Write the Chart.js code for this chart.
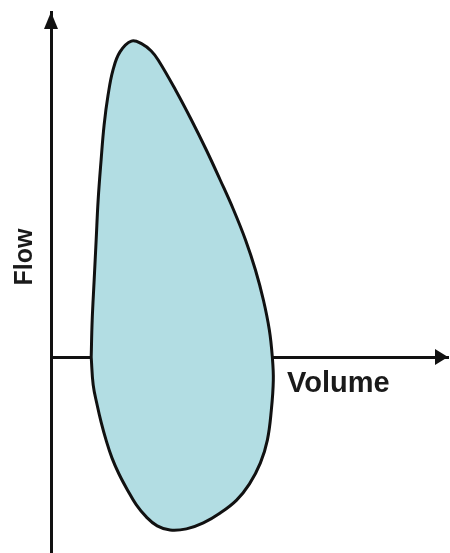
<!DOCTYPE html>
<html>
<head>
<meta charset="utf-8">
<script src="https://cdn.jsdelivr.net/npm/chart.js@4"></script>
<style>
  html, body { margin: 0; padding: 0; background: #fff; }
  #wrap { width: 450px; height: 553px; position: relative; }
</style>
</head>
<body>
<div id="wrap"><canvas id="canvas"></canvas></div>
<script>
// flow-volume loop (volume in L, flow in L/s)
// expiration (top half) then inspiration (bottom half)
var loopVolume = [0.81, 0.83, 0.87, 0.91, 0.95, 1.01, 1.07, 1.15, 1.25, 1.39, 1.62, 1.84, 2.02, 2.16, 2.51, 2.83, 3.13, 3.41, 3.68, 3.92, 4.12, 4.28, 4.40, 4.46,
                  4.48, 4.44, 4.36, 4.22, 4.00, 3.74, 3.41, 3.07, 2.73, 2.40, 2.14, 1.92, 1.72, 1.54, 1.37, 1.23, 1.11, 1.01, 0.93, 0.85, 0.81];
var loopFlow   = [0, 1.23, 2.57, 3.9, 5.23, 6.57, 7.73, 8.73, 9.57, 10.17, 10.53, 10.43, 10.2, 9.9, 8.9, 7.9, 6.9, 5.9, 4.9, 3.9, 2.9, 1.9, 0.9, 0,
                  -0.77, -1.77, -2.77, -3.53, -4.23, -4.77, -5.2, -5.53, -5.73, -5.77, -5.63, -5.33, -4.93, -4.43, -3.9, -3.37, -2.77, -2.17, -1.6, -0.93, 0];

var xLabel = 'Volume';
var yLabel = 'Flow';

var points = [];
for (var i = 0; i < loopVolume.length; i++) {
    points.push({x: loopVolume[i], y: loopFlow[i]});
}

// arrow heads at the ends of the axes + axis names
var axisDecor = {
    id: 'axisDecor',
    afterDraw: function(chart) {
        var ctx = chart.ctx;
        var xs = chart.scales.x, ys = chart.scales.y;
        var ox = xs.getPixelForValue(0);
        var oy = ys.getPixelForValue(0);
        var top = ys.getPixelForValue(ys.max);
        var right = xs.getPixelForValue(xs.max);
        ctx.save();
        ctx.fillStyle = '#111';
        ctx.beginPath();
        ctx.moveTo(ox, top);
        ctx.lineTo(ox - 7, top + 17);
        ctx.lineTo(ox + 7, top + 17);
        ctx.closePath();
        ctx.fill();
        ctx.beginPath();
        ctx.moveTo(right, oy);
        ctx.lineTo(right - 13, oy - 8);
        ctx.lineTo(right - 13, oy + 8);
        ctx.closePath();
        ctx.fill();

        ctx.fillStyle = '#1a1a1a';
        ctx.font = 'bold 29px "Liberation Sans", Arial, sans-serif';
        ctx.textBaseline = 'alphabetic';
        ctx.textAlign = 'left';
        ctx.fillText(xLabel, 287, 392);

        ctx.translate(32, 257);
        ctx.rotate(-Math.PI / 2);
        ctx.textAlign = 'center';
        ctx.font = 'bold 25px "Liberation Sans", Arial, sans-serif';
        ctx.fillText(yLabel, 0, 0);
        ctx.restore();
    }
};

var myChart = new Chart(document.getElementById('canvas').getContext('2d'), {
    type: 'scatter',
    data: {
        datasets: [{
            data: points,
            showLine: true,
            tension: 0.4,
            borderColor: '#111',
            borderWidth: 3,
            backgroundColor: 'rgb(178,221,227)',
            fill: 'shape',
            pointRadius: 0
        }]
    },
    options: {
        responsive: true,
        maintainAspectRatio: false,
        animation: false,
        layout: { padding: { left: 51, top: 12, right: 2, bottom: 1 } },
        plugins: { legend: { display: false }, tooltip: { enabled: false } },
        scales: {
            x: {
                type: 'linear',
                min: 0, max: 8,
                position: { y: 0 },
                z: 1,
                grid: { display: false, drawTicks: false },
                ticks: { display: false },
                border: { display: true, color: '#111', width: 3 }
            },
            y: {
                type: 'linear',
                min: -6.5, max: 11.5,
                position: 'left',
                grid: { display: false, drawTicks: false },
                ticks: { display: false },
                border: { display: true, color: '#111', width: 3 }
            }
        }
    },
    plugins: [axisDecor]
});
</script>
</body>
</html>
